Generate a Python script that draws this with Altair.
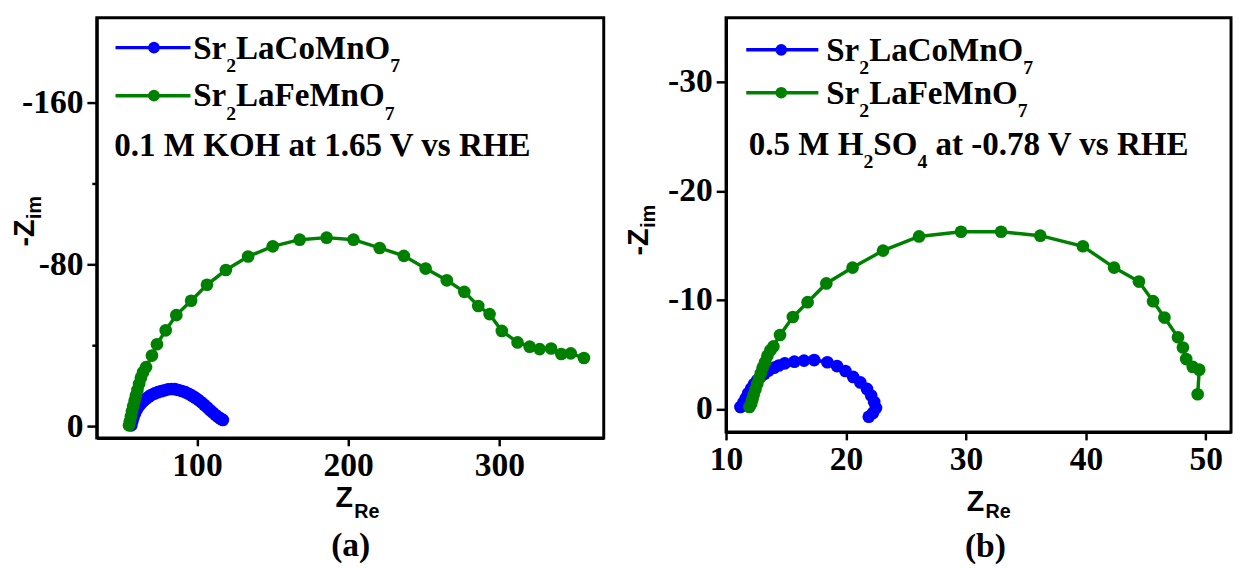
import altair as alt
import pandas as pd

# ---------------- data ----------------
# panel (a): 0.1 M KOH at 1.65 V vs RHE
a_co_zre = [56.5, 57.2, 58.0, 59.0, 60.2, 61.5, 63.0, 64.6, 66.3, 68.1, 70.0, 72.0, 74.1, 76.3,
            78.5, 80.8, 83.1, 85.4, 87.7, 90.0, 92.3, 94.5, 96.7, 98.8, 100.9, 102.9, 104.9,
            106.8, 108.7, 110.5, 112.3, 114.0, 115.6, 117.1]
a_co_zim = [-0.5, -2.5, -4.5, -6.5, -8.3, -9.9, -11.3, -12.6, -13.7, -14.7, -15.6, -16.3, -16.9,
            -17.4, -17.8, -18.3, -18.5, -18.4, -18.0, -17.5, -16.9, -16.1, -15.2, -14.2, -13.1,
            -11.9, -10.6, -9.3, -8.0, -6.8, -5.6, -4.6, -3.8, -3.2]
a_fe_zre = [55.0, 55.6, 56.3, 57.0, 57.8, 58.7, 59.6, 60.6, 61.7, 62.9, 64.3, 66.3, 70.2, 73.5,
            79.3, 86.3, 96.1, 106.6, 119.1, 133.8, 150.1, 167.9, 185.7, 203.5, 220.8, 236.8,
            251.2, 265.2, 276.8, 286.0, 293.5, 301.6, 312.0, 320.0, 326.6, 334.2, 340.9, 347.2,
            355.9]
a_fe_zim = [-0.5, -2.5, -5.0, -7.5, -10.0, -12.7, -15.3, -18.0, -21.0, -24.0, -26.8, -29.3, -35.0,
            -40.6, -47.5, -55.0, -62.1, -70.0, -77.3, -84.0, -89.0, -92.3, -93.3, -92.3, -88.2,
            -84.3, -78.0, -72.2, -66.5, -59.5, -55.5, -47.2, -41.5, -39.4, -38.2, -38.5, -35.8,
            -36.1, -33.8]

# panel (b): 0.5 M H2SO4 at -0.78 V vs RHE
b_co_zre = [11.2, 11.45, 11.65, 11.85, 12.1, 12.35, 12.6, 12.9, 13.2, 13.55, 14.0, 14.4, 14.9,
            15.7, 16.5, 17.35, 18.45, 19.25, 19.95, 20.6, 21.2, 21.75, 22.1, 22.35, 22.5, 22.25,
            21.9]
b_co_zim = [-0.2, -0.6, -1.0, -1.45, -1.9, -2.3, -2.65, -3.0, -3.25, -3.55, -3.8, -4.0, -4.2,
            -4.35, -4.45, -4.5, -4.3, -3.95, -3.5, -2.95, -2.45, -1.85, -1.25, -0.65, -0.1, 0.35,
            0.7]
b_fe_zre = [11.95, 12.1, 12.2, 12.3, 12.45, 12.6, 12.75, 12.9, 13.05, 13.25, 13.45, 13.7, 13.95,
            14.5, 15.57, 16.8, 18.36, 20.55, 23.09, 26.09, 29.59, 32.93, 36.2, 39.75, 42.35,
            44.42, 45.6, 46.55, 47.68, 48.09, 48.36, 48.91, 49.45, 49.32]
b_fe_zim = [-0.2, -0.5, -0.9, -1.3, -1.8, -2.3, -2.8, -3.3, -3.8, -4.3, -4.9, -5.4, -5.75, -6.8,
            -8.45, -9.81, -11.53, -12.98, -14.54, -15.84, -16.27, -16.27, -15.91, -14.94, -12.98,
            -11.7, -9.9, -8.4, -6.59, -5.65, -4.59, -3.87, -3.62, -1.36]

a_xticks = [100, 200, 300]
a_yticks = [-160, -120, -80, -40, 0]
b_xticks = [10, 20, 30, 40, 50]
b_yticks = [-30, -20, -10, 0]

BLUE = "#0000ff"
GREEN = "#008000"
SERIF = "Liberation Serif"
SANS = "Liberation Sans"

# Times/Arial bold advance widths (per 1000 em) used to place sub-scripted runs
TW_SERIF = {" ": 250, "(": 333, ")": 333, "-": 333, ".": 250, "S": 556, "r": 444, "L": 667,
            "a": 500, "C": 722, "o": 500, "M": 944, "n": 556, "O": 778, "F": 611, "e": 444,
            "H": 778, "K": 778, "t": 333, "V": 722, "v": 500, "s": 389, "R": 722, "E": 667}
for d in "0123456789":
    TW_SERIF[d] = 500

one = pd.DataFrame({"k": [0]})


def tw(s, size):
    return sum(TW_SERIF.get(c, 500) for c in s) / 1000.0 * size


def txt(s, x, y, size, font=SERIF, align="left", angle=0):
    return alt.Chart(one).mark_text(
        text=s, x=x, y=y, fontSize=size, font=font, fontWeight="bold", align=align,
        baseline="alphabetic", angle=angle, color="black")


def rich(pieces, x0, y0, size=33.5, sub=20, shift=14):
    layers = []
    cx = x0
    for s, is_sub in pieces:
        fs = sub if is_sub else size
        lead = len(s) - len(s.lstrip(" "))
        cx += tw(" " * lead, fs)
        s = s.lstrip(" ")
        layers.append(txt(s, cx, y0 + (shift if is_sub else 0), fs))
        cx += tw(s, fs)
    return layers


def legend_glyph(color, x1, x2, xd, y):
    rule = alt.Chart(one).mark_rule(color=color, strokeWidth=3.5).encode(
        x=alt.value(x1), x2=alt.value(x2), y=alt.value(y))
    dot = alt.Chart(one).mark_circle(color=color, size=140, opacity=1).encode(
        x=alt.value(xd), y=alt.value(y))
    return [rule, dot]


def series(zre, zim, color, xdom, ydom, xaxis, yaxis):
    df = pd.DataFrame({"zre": zre, "zim": zim, "i": list(range(len(zre)))})
    base = alt.Chart(df).encode(
        x=alt.X("zre:Q", scale=alt.Scale(domain=xdom, nice=False, zero=False), axis=xaxis),
        y=alt.Y("zim:Q", scale=alt.Scale(domain=ydom, nice=False, zero=False, reverse=True),
                axis=yaxis),
        order=alt.Order("i:Q"),
    )
    return [base.mark_line(color=color, strokeWidth=3.5),
            base.mark_circle(color=color, size=165, opacity=1)]


LABEL_EXPR = "(datum.value < 0 ? '-' : '') + abs(datum.value)"

# ---------------- panel (a) ----------------
xa = alt.Axis(values=a_xticks, title=None, grid=False, labelFlush=False, labelOverlap=False,
              tickSize=8, labelPadding=3, format="d")
ya = alt.Axis(values=a_yticks, title=None, grid=False, labelOverlap=False, labelFlush=False,
              labelExpr="datum.value % 80 == 0 ? " + LABEL_EXPR + " : ''",
              tickSize={"condition": {"test": "datum.value % 80 != 0", "value": 5}, "value": 10},
              labelPadding=4)
a_xdom = [33.7, 369]
a_ydom = [-202, 5.7]
layers_a = []
layers_a += series(a_co_zre, a_co_zim, BLUE, a_xdom, a_ydom, xa, ya)
layers_a += series(a_fe_zre, a_fe_zim, GREEN, a_xdom, a_ydom, xa, ya)
layers_a += legend_glyph(BLUE, 19, 95, 58, 30.3)
layers_a += legend_glyph(GREEN, 19, 95, 58, 79)
layers_a += rich([("Sr", 0), ("2", 1), ("LaCoMnO", 0), ("7", 1)], 97.7, 41.5)
layers_a += rich([("Sr", 0), ("2", 1), ("LaFeMnO", 0), ("7", 1)], 97.7, 89.7)
layers_a += rich([("0.1 M KOH at 1.65 V vs RHE", 0)], 17.7, 139.7)
# axis titles
layers_a.append(txt("Z", 242, 496, 29, font=SANS))
layers_a.append(txt("Re", 261, 507.5, 20, font=SANS))
layers_a.append(txt("(a)", 257.5, 545.5, 34, align="center"))
layers_a.append(txt("-Z", -64, 232, 29, font=SANS, angle=270))
layers_a.append(txt("im", -57, 204, 20, font=SANS, angle=270))
panel_a = alt.layer(*layers_a).properties(width=514, height=426)

# ---------------- panel (b) ----------------
xb = alt.Axis(values=b_xticks, title=None, grid=False, labelFlush=False, labelOverlap=False,
              tickSize=8, labelPadding=3, format="d")
yb = alt.Axis(values=b_yticks, title=None, grid=False, labelOverlap=False, labelFlush=False,
              labelExpr=LABEL_EXPR, tickSize=10, labelPadding=4)
b_xdom = [10, 52.1]
b_ydom = [-35.9, 2.1]
layers_b = []
layers_b += series(b_co_zre, b_co_zim, BLUE, b_xdom, b_ydom, xb, yb)
layers_b += series(b_fe_zre, b_fe_zim, GREEN, b_xdom, b_ydom, xb, yb)
layers_b += legend_glyph(BLUE, 20.5, 93.6, 56, 32.5)
layers_b += legend_glyph(GREEN, 20.5, 93.6, 56, 76)
layers_b += rich([("Sr", 0), ("2", 1), ("LaCoMnO", 0), ("7", 1)], 101.6, 43.4)
layers_b += rich([("Sr", 0), ("2", 1), ("LaFeMnO", 0), ("7", 1)], 101.6, 87)
layers_b += rich([("0.5 M H", 0), ("2", 1), ("SO", 0), ("4", 1),
                  (" at -0.78 V vs RHE", 0)], 23, 138.8)
layers_b.append(txt("Z", 244, 500, 29, font=SANS))
layers_b.append(txt("Re", 263, 507, 20, font=SANS))
layers_b.append(txt("(b)", 263, 546.5, 34, align="center"))
layers_b.append(txt("-Z", -79, 241, 29, font=SANS, angle=270))
layers_b.append(txt("im", -72, 213, 20, font=SANS, angle=270))
panel_b = alt.layer(*layers_b).properties(width=512, height=420)

chart = (
    alt.hconcat(panel_a, panel_b, spacing=18)
    .properties(padding={"left": 1, "top": 4, "right": 0, "bottom": 0}, background="white")
    .configure_view(stroke="black", strokeWidth=3)
    .configure_axis(domainColor="black", domainWidth=3, tickColor="black", tickWidth=2.5,
                    labelFont=SERIF, labelFontWeight="bold", labelFontSize=34,
                    labelColor="black", grid=False)
)

chart.save("out.html", embed_options={"renderer": "svg", "actions": False})
